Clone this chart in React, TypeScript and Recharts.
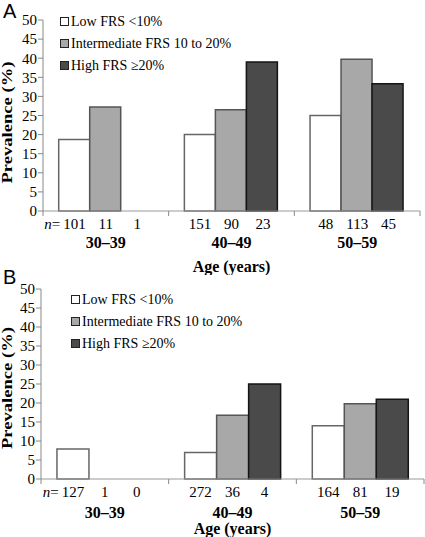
import React from "react";
import { BarChart, Bar, XAxis, YAxis, Legend } from "recharts";

const groups = ["30–39", "40–49", "50–59"];
const yTicks = [0, 5, 10, 15, 20, 25, 30, 35, 40, 45, 50];
const seriesKeys = ["low", "inter", "high"];
const seriesNames = ["Low FRS <10%", "Intermediate FRS 10 to 20%", "High FRS ≥20%"];

// Panel A prevalence (%)
const lowA = [18.7, 20, 25];
const interA = [27.2, 26.5, 39.7];
const highA = [0, 39, 33.3];
const nLowA = [101, 151, 48];
const nInterA = [11, 90, 113];
const nHighA = [1, 23, 45];

// Panel B prevalence (%)
const lowB = [7.9, 7, 14];
const interB = [0, 16.8, 19.8];
const highB = [0, 25, 21];
const nLowB = [127, 272, 164];
const nInterB = [1, 36, 81];
const nHighB = [0, 4, 19];

const SERIF = '"Liberation Serif", "DejaVu Serif", "Times New Roman", serif';
const SANS = '"Liberation Sans", Arial, sans-serif';
const fills = ["#ffffff", "#a8a8a8", "#4a4a4a"];
const strokes = ["#666666", "#555555", "#151515"];

const buildRows = (low: number[], inter: number[], high: number[]) =>
  groups.map((g, i) => ({ group: g, low: low[i], inter: inter[i], high: high[i] }));

const GroupTick = (props: any) => {
  const { x, y, payload, index, band, counts } = props;
  const barW = band * 0.25;
  const isLast = index === groups.length - 1;
  return (
    <g>
      <line x1={x - band / 2} x2={x - band / 2} y1={y} y2={y + 5} stroke="#888" />
      {isLast && <line x1={x + band / 2} x2={x + band / 2} y1={y} y2={y + 5} stroke="#888" />}
      {counts.map((arr: number[], k: number) => {
        const cx = x + (k - 1) * barW;
        const label = String(arr[index]);
        return (
          <g key={k}>
            {index === 0 && k === 0 && (
              <text
                x={cx - (label.length * 7.5) / 2 - 3}
                y={y + 18}
                textAnchor="end"
                fontFamily={SERIF}
                fontSize={15}
                fill="#000"
              >
                <tspan fontStyle="italic">n</tspan>
                <tspan>=</tspan>
              </text>
            )}
            <text x={cx} y={y + 18} textAnchor="middle" fontFamily={SERIF} fontSize={15} fill="#000">
              {label}
            </text>
          </g>
        );
      })}
      <text
        x={x}
        y={y + props.groupDy}
        textAnchor="middle"
        fontFamily={SERIF}
        fontSize={16}
        fontWeight="bold"
        fill="#000"
      >
        {payload.value}
      </text>
    </g>
  );
};

const renderLegend = (props: any) => {
  const { payload } = props;
  const items = seriesKeys.map((k) => (payload || []).find((e: any) => e.dataKey === k));
  return (
    <div style={{ fontFamily: SERIF, fontSize: 14, color: "#000" }}>
      {items.map((entry: any, i: number) => (
        <div key={i} style={{ height: 22, lineHeight: "22px", whiteSpace: "nowrap" }}>
          <span
            style={{
              display: "inline-block",
              width: 7,
              height: 7,
              background: fills[i],
              border: "1px solid #222",
              marginRight: 2,
              verticalAlign: "middle",
              position: "relative",
              top: -1,
            }}
          />
          {entry ? entry.value : seriesNames[i]}
        </div>
      ))}
    </div>
  );
};

const YLabel = (props: any) => {
  const { viewBox, shift } = props;
  const cy = viewBox.y + viewBox.height / 2 + shift;
  return (
    <text
      x={12}
      y={cy}
      transform={`rotate(-90, 12, ${cy})`}
      textAnchor="middle"
      fontFamily={SERIF}
      fontSize={15}
      fontWeight="bold"
      textLength={122}
      lengthAdjust="spacingAndGlyphs"
      fill="#000"
    >
      Prevalence (%)
    </text>
  );
};

const XLabel = (props: any) => {
  const { viewBox, dy } = props;
  return (
    <text
      x={viewBox.x + viewBox.width / 2}
      y={viewBox.y + dy}
      textAnchor="middle"
      fontFamily={SERIF}
      fontSize={16}
      fontWeight="bold"
      fill="#000"
    >
      Age (years)
    </text>
  );
};

interface PanelProps {
  rows: any[];
  counts: number[][];
  height: number;
  marginTop: number;
  marginRight: number;
  yWidth: number;
  xHeight: number;
  groupDy: number;
  ageDy: number;
  legendTop: number;
  legendLeft: number;
  yShift: number;
}

const Panel = (p: PanelProps) => {
  const band = (425 - p.yWidth - p.marginRight) / groups.length;
  return (
    <BarChart
      width={425}
      height={p.height}
      data={p.rows}
      margin={{ top: p.marginTop, right: p.marginRight, left: 0, bottom: 0 }}
      barCategoryGap="12.5%"
      barGap={0}
    >
      <XAxis
        dataKey="group"
        height={p.xHeight}
        axisLine={{ stroke: "#999" }}
        tickLine={false}
        tickSize={0}
        tickMargin={0}
        interval={0}
        tick={<GroupTick band={band} counts={p.counts} groupDy={p.groupDy} />}
        label={<XLabel dy={p.ageDy} />}
      />
      <YAxis
        width={p.yWidth}
        domain={[0, 50]}
        ticks={yTicks}
        interval={0}
        axisLine={{ stroke: "#888" }}
        tickLine={{ stroke: "#888" }}
        tickSize={5}
        tickMargin={1}
        tick={{ fill: "#000", fontSize: 15, fontFamily: SERIF }}
        label={<YLabel shift={p.yShift} />}
      />
      <Legend
        content={renderLegend}
        layout="vertical"
        align="center"
        verticalAlign="middle"
        wrapperStyle={{ top: p.legendTop, left: p.legendLeft, width: "auto" }}
      />
      <Bar dataKey="low" name={seriesNames[0]} fill={fills[0]} stroke={strokes[0]} strokeWidth={1.5} isAnimationActive={false} />
      <Bar dataKey="inter" name={seriesNames[1]} fill={fills[1]} stroke={strokes[1]} strokeWidth={1.5} isAnimationActive={false} />
      <Bar dataKey="high" name={seriesNames[2]} fill={fills[2]} stroke={strokes[2]} strokeWidth={1.5} isAnimationActive={false} />
    </BarChart>
  );
};

export default function App() {
  return (
    <div style={{ position: "absolute", left: 0, top: 0, width: 425, height: 537, background: "#fff" }}>
      <div style={{ position: "absolute", left: 0, top: 0 }}>
        <Panel
          rows={buildRows(lowA, interA, highA)}
          counts={[nLowA, nInterA, nHighA]}
          height={275}
          marginTop={20}
          marginRight={5}
          yWidth={43}
          xHeight={64}
          groupDy={37}
          ageDy={61}
          legendTop={11}
          legendLeft={60}
          yShift={7}
        />
      </div>
      <div style={{ position: "absolute", left: 0, top: 275 }}>
        <Panel
          rows={buildRows(lowB, interB, highB)}
          counts={[nLowB, nInterB, nHighB]}
          height={262}
          marginTop={14}
          marginRight={1}
          yWidth={41}
          xHeight={58}
          groupDy={39}
          ageDy={55}
          legendTop={14}
          legendLeft={71}
          yShift={4}
        />
      </div>
      <div style={{ position: "absolute", left: 3, top: 0, fontFamily: SANS, fontSize: 20, lineHeight: "22px" }}>A</div>
      <div style={{ position: "absolute", left: 3, top: 266, fontFamily: SANS, fontSize: 20, lineHeight: "22px" }}>B</div>
    </div>
  );
}
